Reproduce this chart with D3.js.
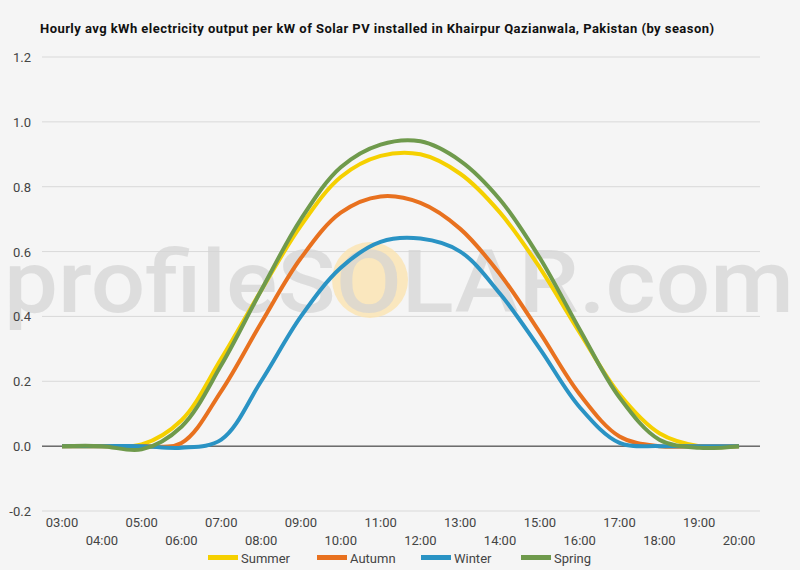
<!DOCTYPE html>
<html><head><meta charset="utf-8">
<script src="https://cdn.jsdelivr.net/npm/d3@7"></script>
<style>body{margin:0;background:#f5f5f5;font-family:Roboto,sans-serif}</style>
</head><body><svg id="c" width="800" height="570"></svg>
<script>
// Data
const hours = d3.range(3, 21);
const seriesNames = ['Summer', 'Autumn', 'Winter', 'Spring'];
const colors = ['#f5d000', '#e8711f', '#2a93c4', '#6f9a4c'];
const summer = [0, 0, 0.005, 0.08, 0.27, 0.48, 0.68, 0.83, 0.895, 0.9, 0.84, 0.72, 0.55, 0.35, 0.16, 0.04, 0.0, 0];
const autumn = [0, 0, 0, 0.01, 0.17, 0.38, 0.58, 0.72, 0.77, 0.75, 0.67, 0.53, 0.35, 0.16, 0.03, 0, 0, 0];
const winter = [0, 0, 0, -0.005, 0.02, 0.2, 0.4, 0.55, 0.63, 0.64, 0.6, 0.47, 0.3, 0.12, 0.01, 0, 0, 0];
const spring = [0, 0, -0.01, 0.06, 0.25, 0.48, 0.7, 0.86, 0.93, 0.94, 0.88, 0.76, 0.58, 0.36, 0.15, 0.02, -0.005, 0];
const yTicks = [-0.2, 0, 0.2, 0.4, 0.6, 0.8, 1.0, 1.2];

const svg = d3.select('#c');
const x = d3.scaleLinear().domain([3, 20]).range([62, 739]);
const y = d3.scaleLinear().domain([-0.2, 1.2]).range([511, 57]);

svg.append('rect').attr('width', 800).attr('height', 570).attr('fill', '#f5f5f5');

// Title
svg.append('text').attr('x', 40).attr('y', 33).attr('font-size', 13).attr('font-weight', 'bold')
  .attr('fill', '#111').attr('textLength', 674)
  .text('Hourly avg kWh electricity output per kW of Solar PV installed in Khairpur Qazianwala, Pakistan (by season)');

// Grid
svg.append('g').selectAll('line').data(yTicks).join('line')
  .attr('x1', 42).attr('x2', 760).attr('y1', d => y(d)).attr('y2', d => y(d))
  .attr('stroke', d => d === 0 ? '#222' : '#d9d9d9').attr('stroke-width', 1);

// Watermark
svg.append('circle').attr('cx', 370).attr('cy', 280).attr('r', 38).attr('fill', '#fbe3b0').attr('opacity', 0.8);
svg.append('text').attr('x', 4).attr('y', 312)
  .attr('font-size', 88).attr('font-weight', 500).attr('fill', '#d4d4d4').attr('opacity', 0.7)
  .attr('textLength', 790).attr('lengthAdjust', 'spacingAndGlyphs')
  .text('profileSOLAR.com');

svg.append('g').selectAll('text').data(yTicks).join('text')
  .attr('x', 31).attr('y', d => y(d) + 5).attr('text-anchor', 'end')
  .attr('font-size', 13).attr('fill', '#444').text(d => d.toFixed(1));

// Lines
const data = [summer, autumn, winter, spring];
const line = d3.line().x((d, i) => x(hours[i])).y(d => y(d)).curve(d3.curveCatmullRom);
svg.append('g').selectAll('path').data([0, 1, 2, 3]).join('path')
  .attr('d', i => line(data[i])).attr('fill', 'none')
  .attr('stroke', i => colors[i]).attr('stroke-width', 4).attr('stroke-linejoin', 'round');

// X axis labels
svg.append('g').selectAll('text').data(hours).join('text')
  .attr('x', d => x(d)).attr('y', d => d % 2 === 1 ? 527 : 545).attr('text-anchor', 'middle')
  .attr('font-size', 13).attr('fill', '#444')
  .text(d => String(d).padStart(2, '0') + ':00');

// Legend
const lx = [208, 317, 421, 521];
const lg = svg.append('g').selectAll('g').data(seriesNames).join('g')
  .attr('transform', (d, i) => `translate(${lx[i]},558)`);
lg.append('rect').attr('x', 0).attr('y', -3).attr('width', 30).attr('height', 5).attr('fill', (d, i) => colors[i]);
lg.append('text').attr('x', 33).attr('y', 5).attr('font-size', 13).attr('fill', '#444').text(d => d);
</script></body></html>
